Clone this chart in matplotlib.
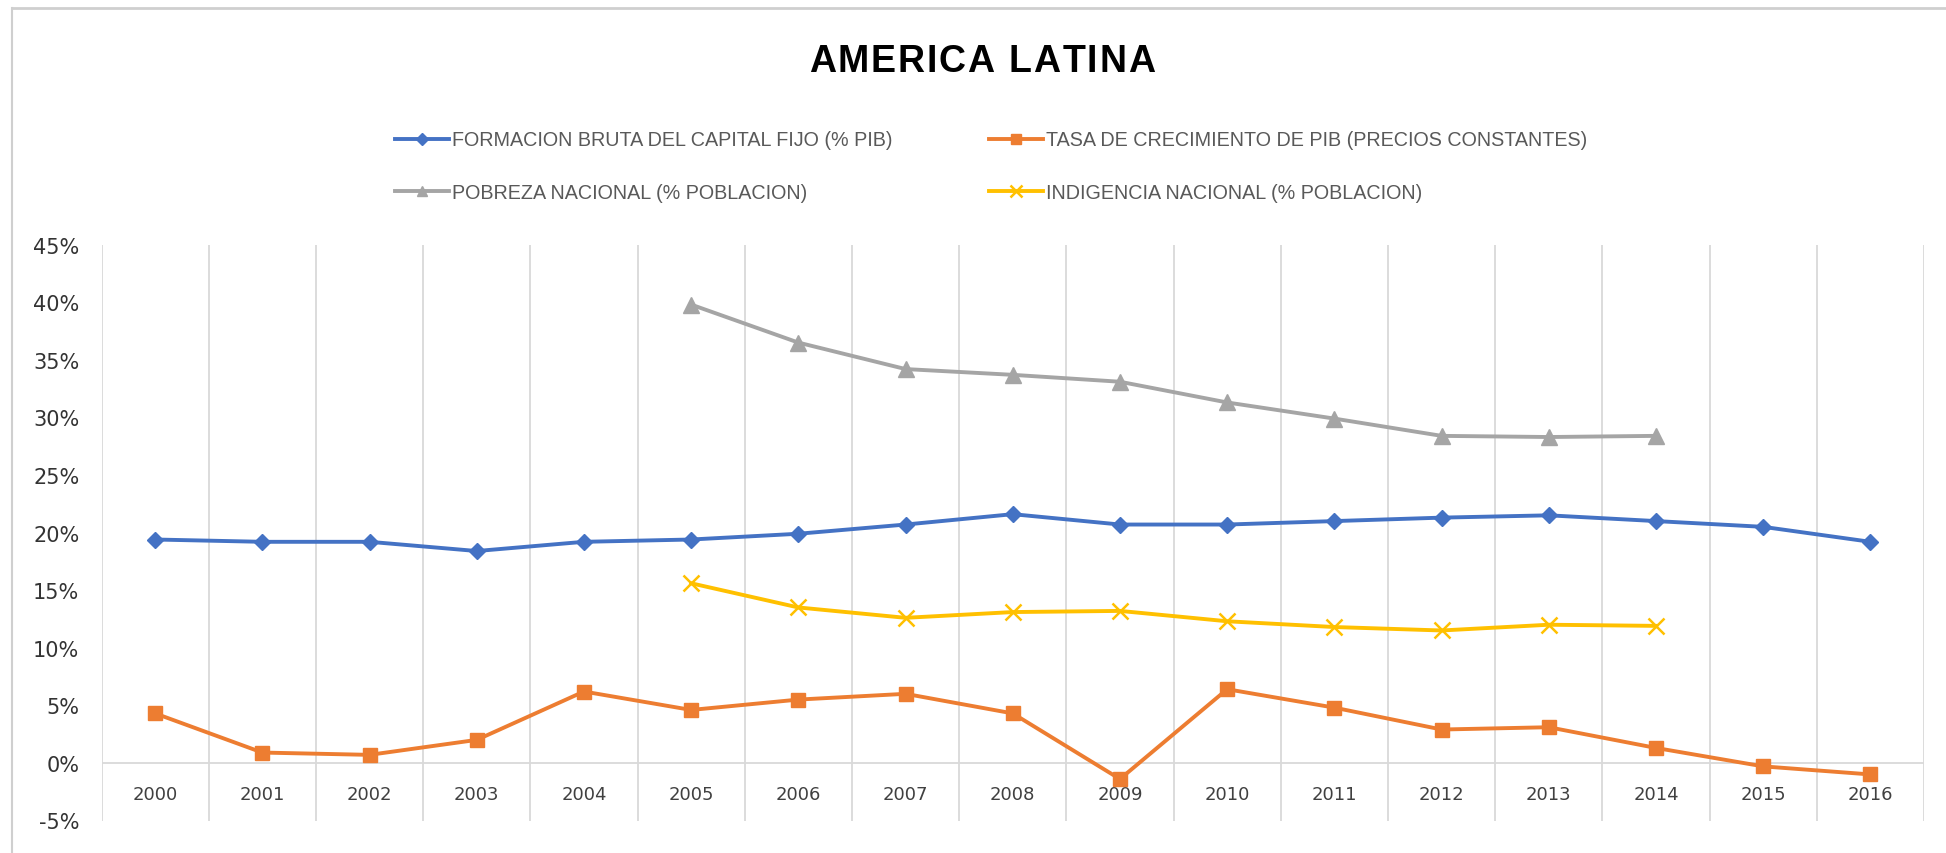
import numpy as np
import matplotlib
matplotlib.use("Agg")
import matplotlib.pyplot as plt
from matplotlib.lines import Line2D
from matplotlib.ticker import FuncFormatter

years = [str(y) for y in range(2000, 2017)]
fbcf = [19.4, 19.2, 19.2, 18.4, 19.2, 19.4, 19.9, 20.7, 21.6, 20.7, 20.7, 21.0, 21.3, 21.5, 21.0, 20.5, 19.2]
pib = [4.3, 0.9, 0.7, 2.0, 6.2, 4.6, 5.5, 6.0, 4.3, -1.4, 6.4, 4.8, 2.9, 3.1, 1.3, -0.3, -1.0]
pobreza = [None] * 5 + [39.8, 36.5, 34.2, 33.7, 33.1, 31.3, 29.9, 28.4, 28.3, 28.4] + [None] * 2
indigencia = [None] * 5 + [15.6, 13.5, 12.6, 13.1, 13.2, 12.3, 11.8, 11.5, 12.0, 11.9] + [None] * 2

labels = ["FORMACION BRUTA DEL CAPITAL FIJO (% PIB)",
          "TASA DE CRECIMIENTO DE PIB (PRECIOS CONSTANTES)",
          "POBREZA NACIONAL (% POBLACION)",
          "INDIGENCIA NACIONAL (% POBLACION)"]
title = "AMERICA LATINA"
yticks = list(range(-5, 50, 5))

def arr(v):
    return np.array([np.nan if x is None else x for x in v], dtype=float)

plt.rcParams['font.family'] = ['Liberation Sans', 'DejaVu Sans']

W, H = 1946, 854
fig = plt.figure(figsize=(W / 100, H / 100), dpi=100)
ax = fig.add_axes([101.5 / W, 32.5 / H, (1924 - 101.5) / W, (821.5 - 245.7) / H])

x = np.arange(len(years))
grid_c = '#d9d9d9'
for b in np.arange(-0.5, len(years), 1.0):
    ax.axvline(b, color=grid_c, lw=1.3, zorder=0)
ax.axhline(0, color=grid_c, lw=1.3, zorder=0)

l1, = ax.plot(x, arr(fbcf), color='#4472C4', lw=2.8, marker='D', ms=8.5, label=labels[0], zorder=3)
l2, = ax.plot(x, arr(pib), color='#ED7D31', lw=2.8, marker='s', ms=9.5, label=labels[1], zorder=3)
l3, = ax.plot(x, arr(pobreza), color='#A5A5A5', lw=2.8, marker='^', ms=11, label=labels[2], zorder=3)
l4, = ax.plot(x, arr(indigencia), color='#FFC000', lw=2.8, marker='x', ms=12, mew=1.8, label=labels[3], zorder=3)

ax.set_xlim(-0.5, len(years) - 0.5)
ax.set_ylim(-5, 45)
ax.set_yticks(yticks)
ax.yaxis.set_major_formatter(FuncFormatter(lambda v, p: f"{int(v)}%"))
ax.set_xticks(x)
ax.set_xticklabels(years)
for s in ax.spines.values():
    s.set_visible(False)
ax.spines['bottom'].set_position(('data', 0))
ax.tick_params(axis='y', length=0, pad=16, labelsize=15, labelcolor='#333333')
ax.tick_params(axis='x', length=0, pad=16, labelsize=13, labelcolor='#404040')
for t in ax.get_xticklabels() + ax.get_yticklabels():
    t.set_family('DejaVu Sans')
ax.set_facecolor('none')

# Title with letter spacing (drawn character by character)
renderer = fig.canvas.get_renderer()
tprops = dict(fontsize=27, fontweight='bold', color='#000000', va='center', ha='left')
chars = list(title)
widths = []
for c in chars:
    if c == ' ':
        tt = fig.text(0, 0, 'a a', **tprops)
        wa = tt.get_window_extent(renderer).width
        tt.set_text('aa')
        w = wa - tt.get_window_extent(renderer).width
        tt.remove()
    else:
        tt = fig.text(0, 0, c, **tprops)
        w = tt.get_window_extent(renderer).width
        tt.remove()
    widths.append(w)
target_w = 346.0
spacing = (target_w - sum(widths)) / (len(chars) - 1)
xpos = 982 - target_w / 2
for c, w in zip(chars, widths):
    if c != ' ':
        fig.text(xpos / W, 1 - 62 / H, c, **tprops)
    xpos += w + spacing

fig.legend([l1, l3, l2, l4], [labels[0], labels[2], labels[1], labels[3]], ncol=2,
           loc='center left', bbox_to_anchor=(395 / W, 1 - 167 / H), frameon=False,
           fontsize=14.2, labelcolor='#595959', handlelength=2.76, handletextpad=0.15,
           columnspacing=4.85, labelspacing=1.68, borderpad=0, borderaxespad=0,
           markerscale=0.7)

fig.add_artist(Line2D([12 / W, 1], [1 - 9 / H, 1 - 9 / H], transform=fig.transFigure,
                      color='#cfcfcf', lw=2))
fig.add_artist(Line2D([12 / W, 12 / W], [0, 1 - 9 / H], transform=fig.transFigure,
                      color='#cfcfcf', lw=1.5))

fig.savefig('out.png', dpi=100)
